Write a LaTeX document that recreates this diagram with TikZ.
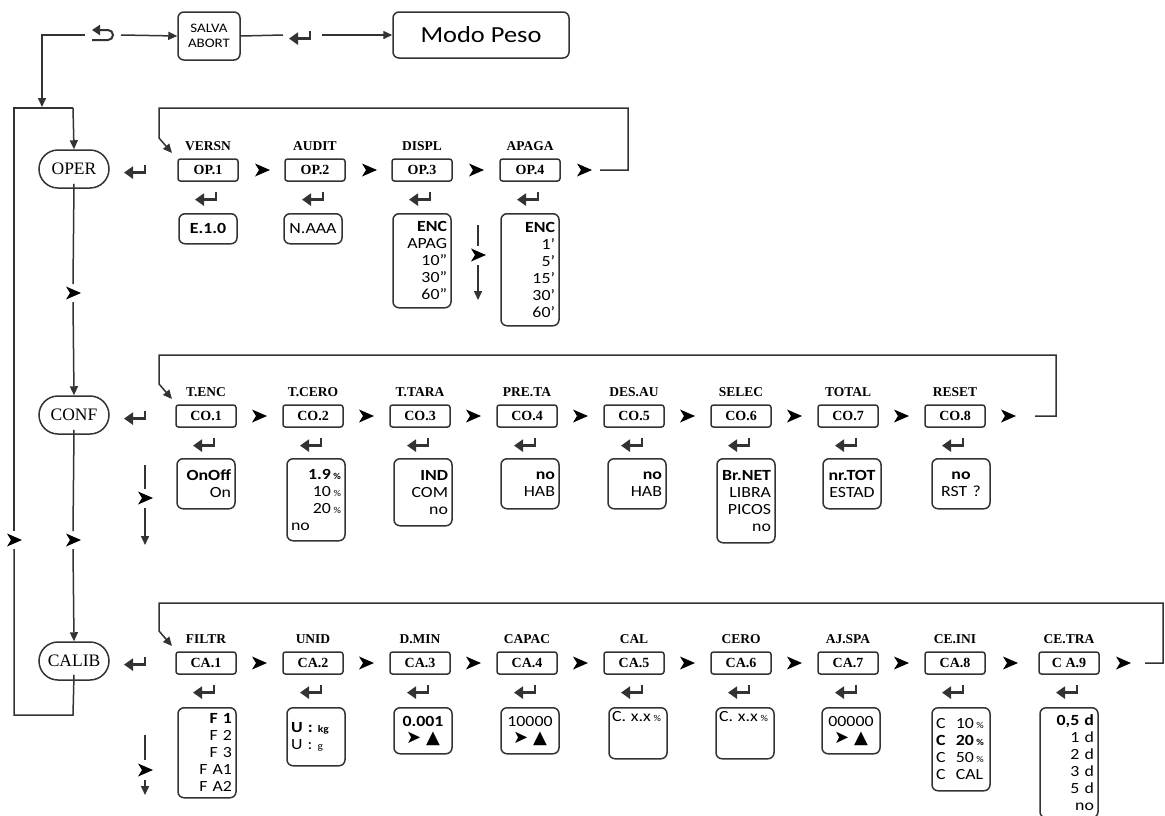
\documentclass[tikz,border=0pt]{standalone}
\usepackage{fontspec}
\setmainfont{Liberation Serif}
\newfontfamily\calf[FakeStretch=1.15]{Carlito}
\newfontfamily\dejf{DejaVu Sans}
\usetikzlibrary{arrows.meta,shapes.misc}
\newcommand{\pct}{\,{\fontsize{9}{10}\selectfont\%}}
\newcommand{\arw}{{\dejf\fontsize{18}{18}\selectfont ➤\hspace{5pt}▲}}
\begin{document}
\begin{tikzpicture}[x=1pt,y=-1pt,line width=1.5pt,draw=black!80,
  lbl/.style={inner sep=0pt,font=\fontsize{13.5}{15}\selectfont\bfseries},
  codebox/.style={draw,rounded corners=2.5pt,minimum width=60pt,minimum height=22pt,inner sep=0pt,font=\fontsize{14}{15}\selectfont\bfseries},
  valbox/.style={draw,rounded corners=6pt,anchor=north,inner xsep=4pt,inner ysep=2pt,text width=50pt,align=right,font=\calf\fontsize{15.5}{17}\selectfont},
  modebox/.style={draw,rounded rectangle,minimum width=70pt,minimum height=38pt,inner sep=0pt,font=\fontsize{17.5}{20}\selectfont},
  topbox/.style={draw,rounded corners=6pt,inner sep=0pt,font=\calf},
  tip/.style={-{Triangle[length=9pt,width=8pt]}},
  enterk/.pic={\draw[line width=1.8pt] (8,-5.5) -- (8,3.5);
               \draw[line width=3pt,-{Triangle[length=9pt,width=12pt]}] (8.9,2.6) -- (-13,2.6);},
  mk/.pic={\fill[black] (-7,-6.5) -- (8,0) -- (-7,6.5) -- (-3,0) -- cycle;},
  undok/.pic={\draw[line width=2pt,{Triangle[length=8pt,width=10pt]}-] (-12,-5) -- (4,-5) arc[start angle=-90,end angle=90,radius=5] -- (-12,5);}
]
\useasboundingbox (0,0) rectangle (1165,815);

% ---------- top ----------
\node[topbox,minimum width=62pt,minimum height=48pt,align=center,font=\calf\fontsize{13}{14.5}\selectfont] (salva) at (209,36) {SALVA\\ABORT};
\node[topbox,minimum width=176pt,minimum height=46pt,font=\calf\fontsize{23}{25}\selectfont] (modo) at (481,35) {Modo Peso};
\coordinate (u1) at (85,35);
\coordinate (u2) at (121,35);
\coordinate (ucorner) at (42,35);
\coordinate (uland) at (42,107);
\pic at (104,35) {undok};
\draw (u1) -- (ucorner) [tip] -- (uland);
\draw[tip] (u2) -- (salva.west);
\coordinate (e1) at (283,35);
\coordinate (e2) at (322,35);
\pic at (302,36) {enterk};
\draw (salva.east) -- (e1);
\draw[tip] (e2) -- (modo.west);

% ---------- mode column ----------
\node[modebox] (oper) at (74,169) {OPER};
\node[modebox] (conf) at (74,415) {CONF};
\node[modebox] (calib) at (74,661) {CALIB};
\pic at (137,170) {enterk};
\pic at (137,416) {enterk};
\pic at (137,662) {enterk};

\coordinate (lt1) at (14,108);
\coordinate (lt2) at (73,108);
\coordinate (lb1) at (14,715);
\coordinate (lb2) at (73,715);
\coordinate (lg1) at (14,531);
\coordinate (lg2) at (14,549);
\draw (lt2) -- (lt1) -- (lg1);
\draw (lg2) -- (lb1) -- (lb2) -- ([yshift=6pt]calib.south);
\draw[tip] (lt2) -- (oper.north);
\pic at (14,540) {mk};

\coordinate (oc1) at (73,284);
\coordinate (oc2) at (73,302);
\draw ([yshift=5pt]oper.south) -- (oc1);
\draw[tip] (oc2) -- (conf.north);
\pic at (73,293) {mk};
\coordinate (cc1) at (73,531);
\coordinate (cc2) at (73,549);
\draw ([yshift=5pt]conf.south) -- (cc1);
\draw[tip] (cc2) -- (calib.north);
\pic at (73,540) {mk};

% ---------- OPER row ----------
\foreach \i/\x/\lab/\cod in {1/208/VERSN/OP.1,2/315/AUDIT/OP.2,3/422/DISPL/OP.3,4/530/APAGA/OP.4}{
  \node[lbl] (lo\i) at (\x,146) {\lab};
  \node[codebox] (bo\i) at (\x,170) {\cod};
  \pic at (\x,197) {enterk};
  \pic at (\x+54,170) {mk};
}
\coordinate (oe1) at (600,170);
\coordinate (oe2) at (628,170);
\coordinate (oe3) at (628,108);
\coordinate (oe4) at (159,108);
\coordinate (oe5) at (159,138);
\coordinate (oe6) at (172,153);
\draw[tip] (oe1) -- (oe2) -- (oe3) -- (oe4) -- (oe5) -- (oe6);

\node[valbox,align=center,minimum height=30pt] (vo1) at (208,213) {\textbf{E.1.0}};
\node[valbox,align=center,minimum height=30pt] (vo2) at (313,213) {N.AAA};
\node[valbox,minimum height=94pt] (vo3) at (422,213) {\textbf{ENC}\\APAG\\10”\\30”\\60”};
\node[valbox,minimum height=112pt] (vo4) at (530,213) {\textbf{ENC}\\1’\\5’\\15’\\30’\\60’};
\coordinate (od1) at (478,225);
\coordinate (od2) at (478,246);
\coordinate (od3) at (478,265);
\coordinate (od4) at (478,300);
\draw (od1) -- (od2);
\draw[tip] (od3) -- (od4);
\pic at (478,255) {mk};

% ---------- CONF row ----------
\foreach \i/\x/\lab/\cod in {1/206/T.ENC/CO.1,2/313/T.CERO/CO.2,3/420/T.TARA/CO.3,4/527/PRE.TA/CO.4,5/634/DES.AU/CO.5,6/741/SELEC/CO.6,7/848/TOTAL/CO.7,8/955/RESET/CO.8}{
  \node[lbl] (lc\i) at (\x,392) {\lab};
  \node[codebox] (bc\i) at (\x,416) {\cod};
  \pic at (\x,443) {enterk};
  \pic at (\x+53,416) {mk};
}
\coordinate (ce1) at (1035,416);
\coordinate (ce2) at (1056,416);
\coordinate (ce3) at (1056,355);
\coordinate (ce4) at (159,355);
\coordinate (ce5) at (159,384);
\coordinate (ce6) at (172,399);
\draw[tip] (ce1) -- (ce2) -- (ce3) -- (ce4) -- (ce5) -- (ce6);

\node[valbox,minimum height=50pt] (vc1) at (206,458) {\textbf{OnOff}\\On};
\node[valbox,minimum height=82pt] (vc2) at (316,458) {\textbf{1.9\pct}\\10\pct\\20\pct\\no\hfill\mbox{}};
\node[valbox,minimum height=67pt] (vc3) at (423,458) {\textbf{IND}\\COM\\no};
\node[valbox,minimum height=50pt] (vc4) at (530,458) {\textbf{no}\\HAB};
\node[valbox,minimum height=50pt] (vc5) at (637,458) {\textbf{no}\\HAB};
\node[valbox,minimum height=84pt] (vc6) at (746,458) {\textbf{Br.NET}\\LIBRA\\PICOS\\no};
\node[valbox,align=center,minimum height=50pt] (vc7) at (852,458) {\textbf{nr.TOT}\\ESTAD};
\node[valbox,align=center,minimum height=50pt] (vc8) at (961,458) {\textbf{no}\\RST ?};
\coordinate (cd1) at (145,465);
\coordinate (cd2) at (145,489);
\coordinate (cd3) at (145,508);
\coordinate (cd4) at (145,545);
\draw (cd1) -- (cd2);
\draw[tip] (cd3) -- (cd4);
\pic at (145,498) {mk};

% ---------- CALIB row ----------
\foreach \i/\x/\lab/\cod in {1/206/FILTR/CA.1,2/313/UNID/CA.2,3/420/D.MIN/CA.3,4/527/CAPAC/CA.4,5/634/CAL/CA.5,6/741/CERO/CA.6,7/848/AJ.SPA/CA.7,8/955/CE.INI/CA.8,9/1069/CE.TRA/C A.9}{
  \node[lbl] (la\i) at (\x,639) {\lab};
  \node[codebox] (ba\i) at (\x,663) {\cod};
  \pic at (\x,690) {enterk};
}
\foreach \x in {259,366,473,580,687,794,901,1010,1123}{\pic at (\x,663) {mk};}
\coordinate (ae1) at (1145,663);
\coordinate (ae2) at (1163,663);
\coordinate (ae3) at (1163,603);
\coordinate (ae4) at (159,603);
\coordinate (ae5) at (159,631);
\coordinate (ae6) at (172,646);
\draw[tip] (ae1) -- (ae2) -- (ae3) -- (ae4) -- (ae5) -- (ae6);

\node[valbox,minimum height=90pt] (va1) at (207,707) {\textbf{F 1}\\F 2\\F 3\\F A1\\F A2};
\node[valbox,align=left,minimum height=58pt] (va2) at (316,707) {\textbf{U : {\fontsize{10}{12}\selectfont kg}}\\U : {\fontsize{10}{12}\selectfont g}};
\node[valbox,align=center,minimum height=46pt] (va3) at (423,707) {\textbf{0.001}\\\arw};
\node[valbox,align=center,minimum height=46pt] (va4) at (530,707) {10000\\\arw};
\node[valbox,align=left,inner xsep=3pt,text width=52pt,text height=12pt,text depth=35pt] (va5) at (638,707) {\mbox{C.\hspace{5pt}x.x\pct}};
\node[valbox,align=left,inner xsep=3pt,text width=52pt,text height=12pt,text depth=35pt] (va6) at (745,707) {\mbox{C.\hspace{5pt}x.x\pct}};
\node[valbox,align=center,minimum height=46pt] (va7) at (851,707) {00000\\\arw};
\node[valbox,align=left,minimum height=83pt] (va8) at (961,707) {C\ \ 10\pct\\\textbf{C\ \ 20\pct}\\C\ \ 50\pct\\C\ \ CAL};
\node[valbox,minimum height=110pt] (va9) at (1069,707) {\textbf{0,5 d}\\1 d\\2 d\\3 d\\5 d\\no};
\coordinate (ad1) at (145,735);
\coordinate (ad2) at (145,760);
\coordinate (ad3) at (145,780);
\coordinate (ad4) at (145,795);
\draw (ad1) -- (ad2);
\draw[tip] (ad3) -- (ad4);
\pic at (145,770) {mk};
\end{tikzpicture}
\end{document}
